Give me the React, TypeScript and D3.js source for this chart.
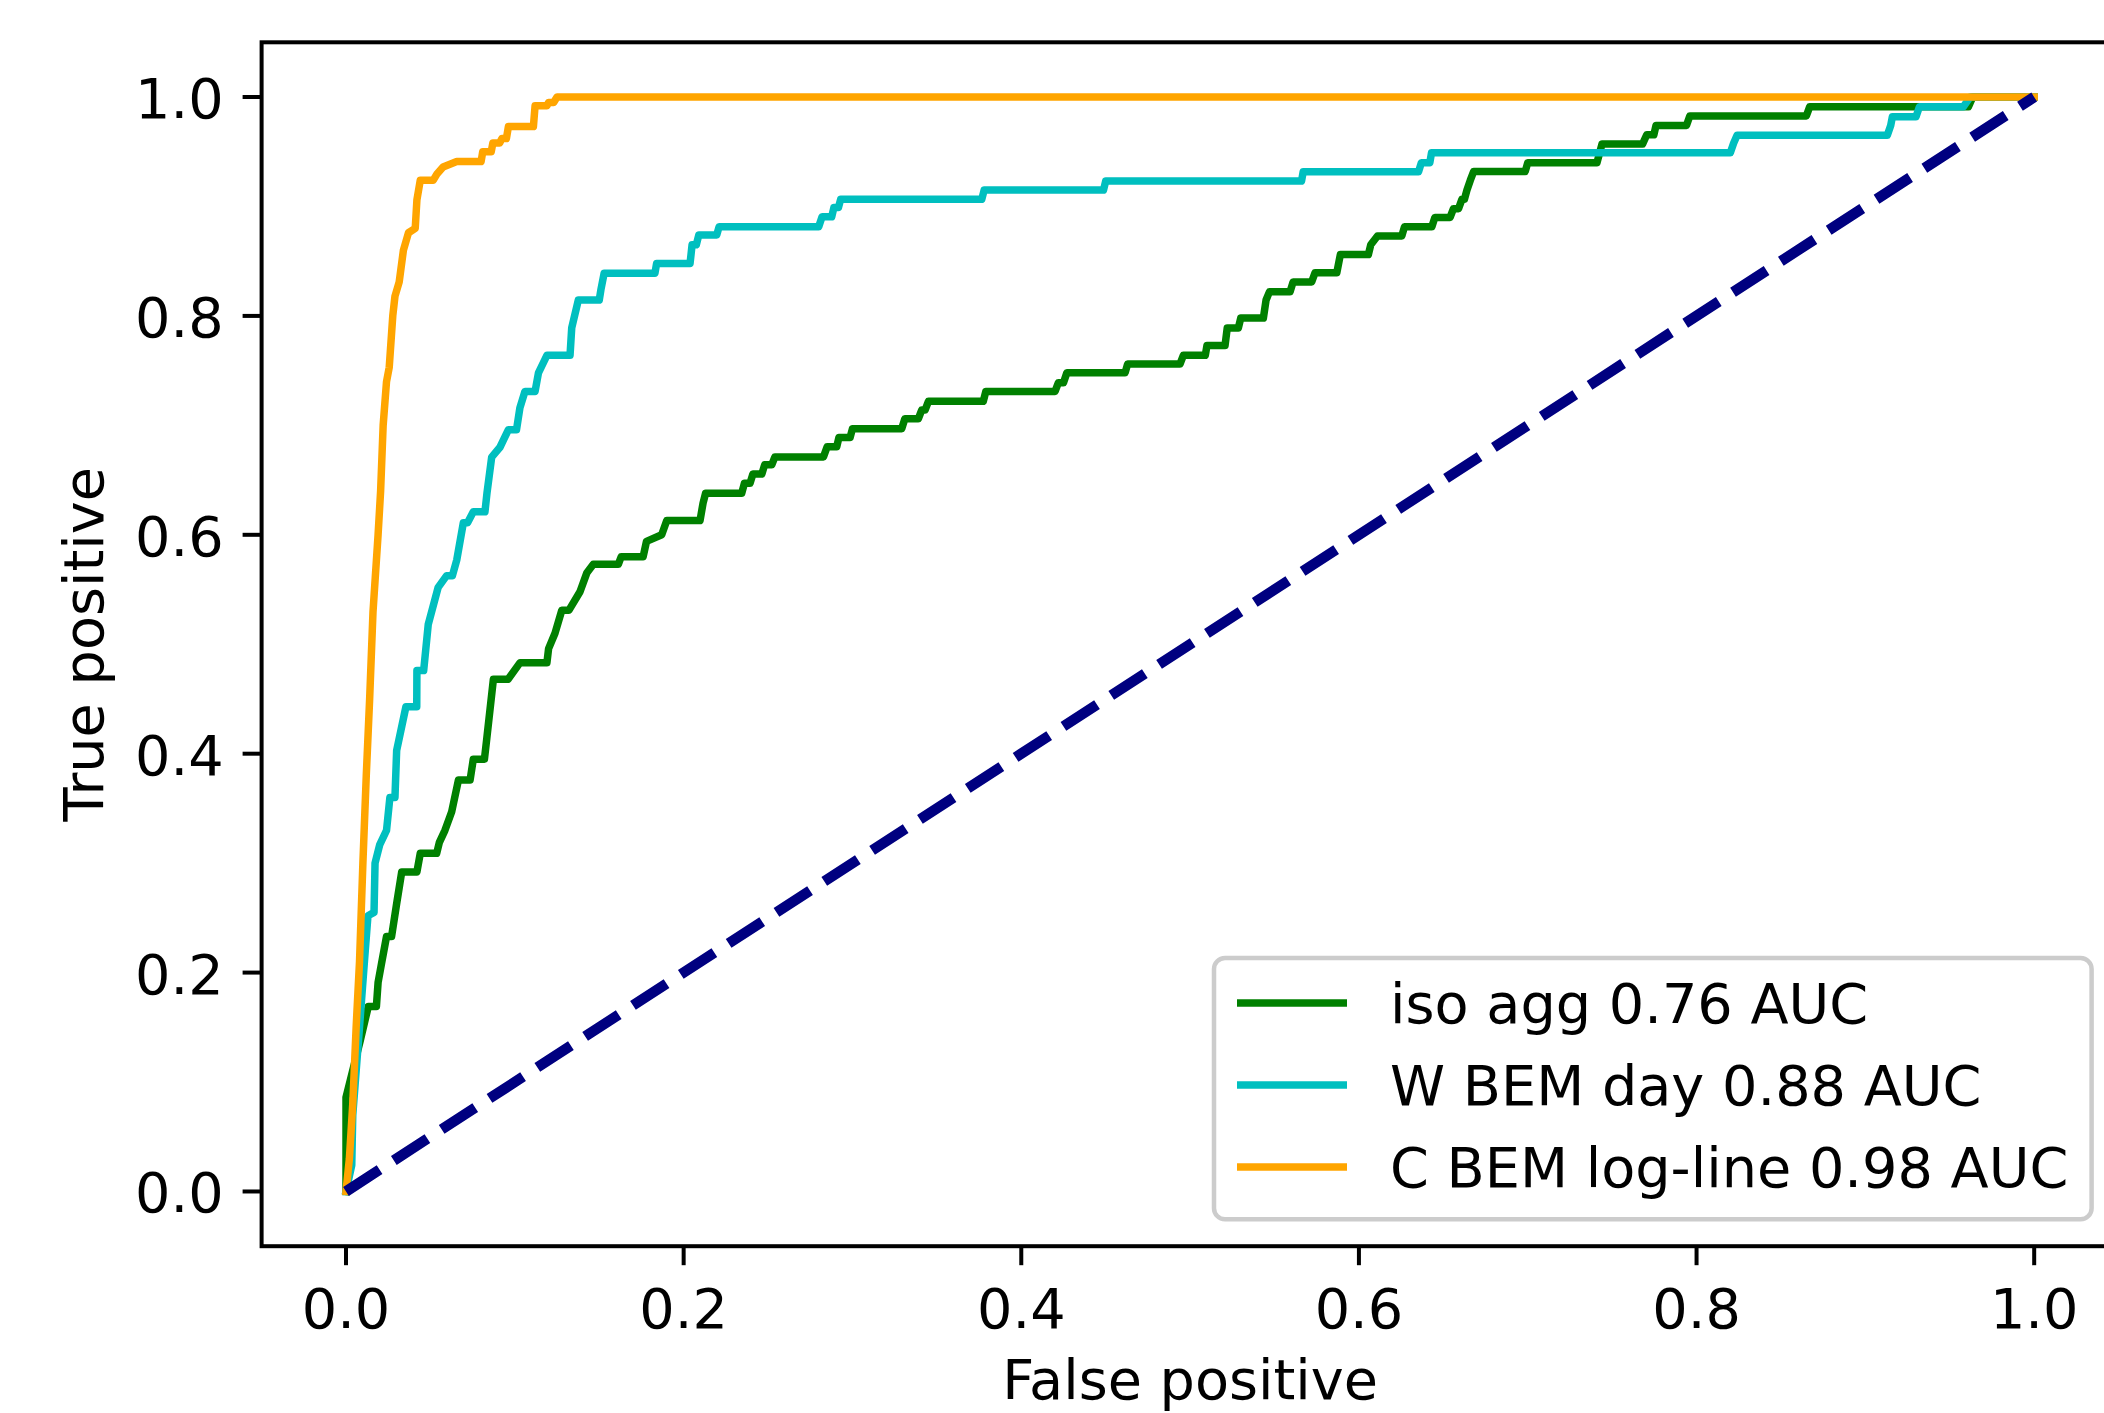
import React from "react";
import * as d3 from "d3";

// ---------- data ----------
const fprIso = [0,0.0,0.0034,0.0083,0.0132,0.018,0.019,0.021,0.024,0.027,0.030,0.033,0.042,0.044,0.0537,0.0553,0.0586,0.0626,0.0666,0.0735,0.0754,0.082,0.0834,0.0873,0.096,0.103,0.119,0.120,0.1238,0.1278,0.132,0.1386,0.1426,0.1465,0.1613,0.163,0.176,0.178,0.187,0.190,0.2097,0.2115,0.213,0.2344,0.236,0.2393,0.241,0.2463,0.248,0.2522,0.254,0.2828,0.285,0.2907,0.292,0.2986,0.300,0.3292,0.331,0.339,0.341,0.343,0.345,0.3775,0.379,0.420,0.422,0.425,0.427,0.4615,0.463,0.494,0.496,0.509,0.510,0.5207,0.522,0.5286,0.530,0.5434,0.545,0.547,0.5592,0.561,0.572,0.574,0.5869,0.589,0.6056,0.607,0.611,0.6254,0.627,0.6432,0.645,0.654,0.656,0.659,0.661,0.6625,0.664,0.666,0.668,0.6985,0.700,0.741,0.744,0.768,0.7705,0.7747,0.776,0.794,0.796,0.865,0.867,0.961,0.9636,1];
const tprIso = [0,0.086,0.107,0.137,0.169,0.169,0.191,0.208,0.233,0.233,0.263,0.292,0.292,0.309,0.309,0.319,0.330,0.347,0.376,0.376,0.395,0.395,0.414,0.468,0.468,0.483,0.483,0.496,0.510,0.531,0.531,0.548,0.565,0.573,0.573,0.580,0.580,0.594,0.600,0.613,0.613,0.629,0.638,0.638,0.647,0.647,0.6555,0.6555,0.664,0.664,0.671,0.671,0.6805,0.6805,0.689,0.689,0.697,0.697,0.706,0.706,0.714,0.714,0.722,0.722,0.731,0.731,0.739,0.739,0.748,0.748,0.756,0.756,0.764,0.764,0.773,0.773,0.789,0.789,0.798,0.798,0.8145,0.822,0.822,0.831,0.831,0.8395,0.8395,0.856,0.856,0.865,0.873,0.873,0.8815,0.8815,0.890,0.890,0.898,0.898,0.9065,0.9065,0.915,0.924,0.932,0.932,0.940,0.940,0.957,0.957,0.9655,0.9655,0.974,0.974,0.9826,0.9826,0.991,0.991,1.0,1];

const fprDay = [0,0.0034,0.004,0.0075,0.011,0.013,0.0166,0.0172,0.020,0.024,0.026,0.029,0.030,0.0355,0.0419,0.042,0.046,0.0487,0.0546,0.0595,0.063,0.0656,0.0695,0.072,0.0754,0.0823,0.0835,0.0863,0.0912,0.0962,0.101,0.103,0.106,0.112,0.114,0.119,0.1327,0.1337,0.1376,0.150,0.151,0.1529,0.183,0.184,0.2038,0.205,0.2075,0.209,0.2196,0.221,0.280,0.282,0.2877,0.289,0.2917,0.293,0.3766,0.378,0.4487,0.450,0.566,0.567,0.6353,0.637,0.642,0.643,0.820,0.822,0.824,0.913,0.915,0.916,0.930,0.932,0.958,0.962,1];
const tprDay = [0,0.024,0.07,0.14,0.212,0.252,0.255,0.300,0.317,0.330,0.36,0.36,0.403,0.443,0.443,0.476,0.476,0.518,0.552,0.5625,0.5625,0.577,0.611,0.611,0.621,0.621,0.638,0.671,0.680,0.696,0.696,0.716,0.731,0.731,0.748,0.764,0.764,0.789,0.8145,0.8145,0.824,0.839,0.839,0.848,0.848,0.865,0.865,0.874,0.874,0.8815,0.8815,0.8906,0.8906,0.899,0.899,0.9065,0.9065,0.915,0.915,0.9232,0.9232,0.9317,0.9317,0.940,0.940,0.949,0.949,0.958,0.965,0.965,0.974,0.982,0.982,0.991,0.991,1.0,1];

const fprLog = [0,0.002,0.004,0.006,0.008,0.010,0.012,0.014,0.016,0.019,0.0205,0.022,0.024,0.0256,0.0277,0.029,0.0315,0.034,0.037,0.041,0.042,0.044,0.0517,0.054,0.0575,0.0656,0.080,0.081,0.086,0.087,0.091,0.0923,0.095,0.0962,0.111,0.112,0.119,0.120,0.123,0.125,1];
const tprLog = [0,0.03,0.08,0.15,0.21,0.30,0.38,0.45,0.53,0.60,0.64,0.70,0.74,0.753,0.80,0.818,0.831,0.86,0.876,0.88,0.906,0.924,0.924,0.930,0.936,0.941,0.941,0.950,0.950,0.958,0.958,0.962,0.962,0.973,0.973,0.992,0.992,0.995,0.995,1.0,1];

const diagX = [0, 1];
const diagY = [0, 1];

const seriesLabels = ["iso agg 0.76 AUC", "W BEM day 0.88 AUC", "C BEM log-line 0.98 AUC"];
const seriesColors = ["#008000", "#00bfbf", "#ffa500"];
const tickValues = [0, 0.2, 0.4, 0.6, 0.8, 1.0];
const xLabel = "False positive";
const yLabel = "True positive";

// ---------- layout ----------
const W = 2104;
const H = 1413;
const FONT = "DejaVu Sans, Liberation Sans, sans-serif";
const FS = 55.7;

export default function App() {
  const x = d3.scaleLinear().domain([-0.05, 1.05]).range([261.6, 2118.6]);
  const y = d3.scaleLinear().domain([-0.05, 1.05]).range([1246.2, 42.3]);
  const [x0, x1] = x.range();
  const [y0, y1] = y.range();
  const fmt = d3.format(".1f");

  const mk = (xs: number[], ys: number[]) =>
    d3
      .line<number>()
      .x((_, i) => x(xs[i]))
      .y((_, i) => y(ys[i]))(xs.map((_, i) => i)) || "";

  const series = [
    { xs: fprIso, ys: tprIso },
    { xs: fprDay, ys: tprDay },
    { xs: fprLog, ys: tprLog },
  ];

  const tickLen = 19;
  const pad = 19;

  // legend box
  const legRight = x1 - 27;
  const legBottom = y0 - 27;
  const legLeft = 1214;
  const legTop = 958;
  const rowY = [1003, 1085, 1167];

  return (
    <svg
      width={W}
      height={H}
      style={{ position: "absolute", left: 0, top: 0, background: "#fff" }}
      fontFamily={FONT}
    >
      <rect x={0} y={0} width={W} height={H} fill="#fff" />
      <defs>
        <clipPath id="plot">
          <rect x={x0} y={y1} width={x1 - x0} height={y0 - y1} />
        </clipPath>
      </defs>
      <g clipPath="url(#plot)">
        {series.map((s, i) => (
          <path
            key={i}
            d={mk(s.xs, s.ys)}
            fill="none"
            stroke={seriesColors[i]}
            strokeWidth={7.5}
            strokeLinejoin="round"
            strokeLinecap="square"
          />
        ))}
        <path
          d={mk(diagX, diagY)}
          fill="none"
          stroke="#000080"
          strokeWidth={10.5}
          strokeDasharray="40 17"
          strokeLinecap="butt"
        />
      </g>

      {/* spines */}
      <rect
        x={x0}
        y={y1}
        width={x1 - x0}
        height={y0 - y1}
        fill="none"
        stroke="#000"
        strokeWidth={4}
      />

      {/* x ticks */}
      {tickValues.map((t) => (
        <g key={"x" + t}>
          <line x1={x(t)} x2={x(t)} y1={y0} y2={y0 + tickLen} stroke="#000" strokeWidth={4} />
          <text x={x(t)} y={1328} fontSize={FS} textAnchor="middle" fill="#000">
            {fmt(t)}
          </text>
        </g>
      ))}
      {/* y ticks */}
      {tickValues.map((t) => (
        <g key={"y" + t}>
          <line x1={x0} x2={x0 - tickLen} y1={y(t)} y2={y(t)} stroke="#000" strokeWidth={4} />
          <text x={x0 - tickLen - pad} y={y(t) + 21} fontSize={FS} textAnchor="end" fill="#000">
            {fmt(t)}
          </text>
        </g>
      ))}

      {/* axis labels */}
      <text x={(x0 + x1) / 2} y={1399} fontSize={FS} textAnchor="middle" fill="#000">
        {xLabel}
      </text>
      <text
        transform={`translate(103, ${(y0 + y1) / 2}) rotate(-90)`}
        fontSize={FS}
        textAnchor="middle"
        fill="#000"
      >
        {yLabel}
      </text>

      {/* legend */}
      <rect
        x={legLeft}
        y={legTop}
        width={legRight - legLeft}
        height={legBottom - legTop}
        rx={11}
        ry={11}
        fill="#fff"
        fillOpacity={0.8}
        stroke="#cccccc"
        strokeWidth={4.5}
      />
      {seriesLabels.map((lab, i) => (
        <g key={lab}>
          <line
            x1={1237}
            x2={1347}
            y1={rowY[i]}
            y2={rowY[i]}
            stroke={seriesColors[i]}
            strokeWidth={7.5}
            strokeLinecap="butt"
          />
          <text x={1390} y={rowY[i] + 20} fontSize={FS} fill="#000">
            {lab}
          </text>
        </g>
      ))}
    </svg>
  );
}
